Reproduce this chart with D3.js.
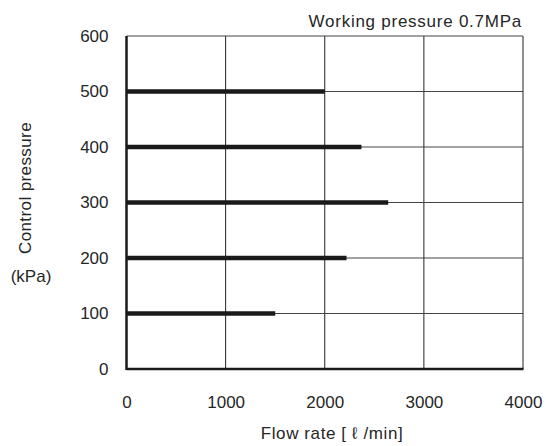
<!DOCTYPE html>
<html>
<head>
<meta charset="utf-8">
<script src="https://cdn.jsdelivr.net/npm/d3@7"></script>
<style>
  body { margin: 0; background: #fff; }
  text { font-family: "Liberation Sans", Arial, sans-serif; fill: #262626; }
</style>
</head>
<body>
<svg id="chart" width="546" height="446"></svg>
<script>
// control pressure (kPa) and flow rate reached (l/min)
var pressures = [100, 200, 300, 400, 500];
var flows = [1500, 2220, 2640, 2370, 2000];
var xTicks = [0, 1000, 2000, 3000, 4000];
var yTicks = [0, 100, 200, 300, 400, 500, 600];

var svg = d3.select('#chart');
var pLeft = 126.5, pRight = 523, pTop = 36, pBottom = 369;
var fs = 17;

var x = d3.scaleLinear().domain([0, 4000]).range([pLeft, pRight]);
var y = d3.scaleLinear().domain([0, 600]).range([pBottom, pTop]);

// grid
svg.append('g').selectAll('line')
  .data(xTicks.slice(1))
  .enter().append('line')
  .attr('x1', d => x(d)).attr('x2', d => x(d))
  .attr('y1', pTop).attr('y2', pBottom)
  .attr('stroke', '#222').attr('stroke-width', 1);

svg.append('g').selectAll('line')
  .data(yTicks.slice(1))
  .enter().append('line')
  .attr('x1', pLeft).attr('x2', pRight)
  .attr('y1', d => y(d)).attr('y2', d => y(d))
  .attr('stroke', '#444').attr('stroke-width', 1);

// bars
svg.append('g').selectAll('line')
  .data(pressures)
  .enter().append('line')
  .attr('x1', pLeft).attr('x2', (d, i) => x(flows[i]))
  .attr('y1', d => y(d)).attr('y2', d => y(d))
  .attr('stroke', '#1a1a1a').attr('stroke-width', 4.5);

// axes lines
svg.append('line')
  .attr('x1', pLeft).attr('x2', pLeft).attr('y1', pTop).attr('y2', pBottom + 1)
  .attr('stroke', '#1a1a1a').attr('stroke-width', 2.5);
svg.append('line')
  .attr('x1', pLeft).attr('x2', pRight + 0.5).attr('y1', pBottom).attr('y2', pBottom)
  .attr('stroke', '#1a1a1a').attr('stroke-width', 2.5);

// tick labels
var xAxis = d3.axisBottom(x).tickValues(xTicks).tickSize(0).tickPadding(27).tickFormat(d3.format('d'));
var gx = svg.append('g').attr('transform', 'translate(0,' + pBottom + ')').call(xAxis);
gx.select('.domain').remove();
gx.selectAll('text').attr('font-size', fs).attr('font-family', '"Liberation Sans", Arial, sans-serif').attr('fill', '#262626');

var yAxis = d3.axisLeft(y).tickValues(yTicks).tickSize(0).tickPadding(18).tickFormat(d3.format('d'));
var gy = svg.append('g').attr('transform', 'translate(' + pLeft + ',0)').call(yAxis);
gy.select('.domain').remove();
gy.selectAll('text').attr('font-size', fs).attr('font-family', '"Liberation Sans", Arial, sans-serif').attr('fill', '#262626');

// titles
svg.append('text')
  .attr('x', 522).attr('y', 27)
  .attr('text-anchor', 'end').attr('font-size', fs)
  .attr('letter-spacing', 0.75)
  .text('Working pressure 0.7MPa');

svg.append('text')
  .attr('x', 332).attr('y', 439)
  .attr('text-anchor', 'middle').attr('font-size', fs)
  .attr('letter-spacing', 0.6)
  .text('Flow rate [ ℓ /min]');

svg.append('text')
  .attr('transform', 'translate(31,188) rotate(-90)')
  .attr('text-anchor', 'middle').attr('font-size', fs)
  .attr('letter-spacing', 0.4)
  .text('Control pressure');

svg.append('text')
  .attr('x', 31).attr('y', 282)
  .attr('text-anchor', 'middle').attr('font-size', fs)
  .text('(kPa)');
</script>
</body>
</html>
